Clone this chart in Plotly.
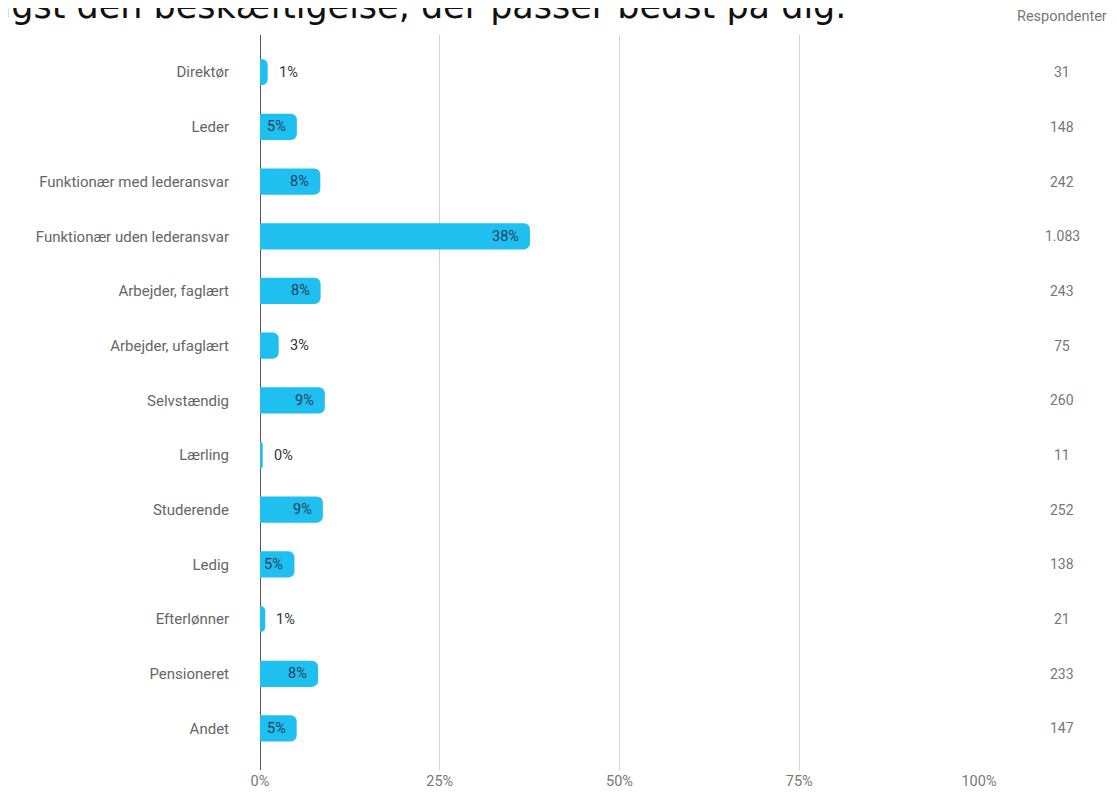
import plotly.graph_objects as go

categories = ["Direktør", "Leder", "Funktionær med lederansvar", "Funktionær uden lederansvar",
              "Arbejder, faglært", "Arbejder, ufaglært", "Selvstændig", "Lærling", "Studerende",
              "Ledig", "Efterlønner", "Pensioneret", "Andet"]
percent = [1.07, 5.13, 8.39, 37.55, 8.43, 2.60, 9.02, 0.38, 8.74, 4.79, 0.73, 8.08, 5.10]
labels = ["1%", "5%", "8%", "38%", "8%", "3%", "9%", "0%", "9%", "5%", "1%", "8%", "5%"]
respondents = ["31", "148", "242", "1.083", "243", "75", "260", "11", "252", "138", "21", "233", "147"]
x_ticks = [0, 25, 50, 75, 100]
x_ticklabels = ["0%", "25%", "50%", "75%", "100%"]

# page has an 8px body margin, so the figure is sized to fit the window
W, H = 1109, 788
L, T = 252, 27
PW, PH = 719, 735
R, B = W - L - PW, H - T - PH

fig = go.Figure(go.Bar(
    x=percent, y=categories, orientation="h",
    marker=dict(color="#1fc0ef", cornerradius=6, line=dict(width=0)),
    cliponaxis=False, hoverinfo="skip",
))

# value labels: inside the bar end for wide bars, just right of the bar for narrow ones
for c, p, t in zip(categories, percent, labels):
    inside = p >= 4
    fig.add_annotation(x=p, y=c, xref="x", yref="y", text=t, showarrow=False,
                       xanchor="right" if inside else "left", xshift=-9 if inside else 9,
                       font=dict(family="Roboto", size=14.5,
                                 color="#1d3f5e" if inside else "#333333"))

fig.update_layout(
    width=W, height=H, margin=dict(l=L, r=R, t=T, b=B, autoexpand=False),
    paper_bgcolor="white", plot_bgcolor="white",
    bargap=0.52, showlegend=False,
    font=dict(family="Roboto", color="#666666", size=15),
    xaxis=dict(range=[0, 100], tickvals=x_ticks, ticktext=x_ticklabels,
               showgrid=True, gridcolor="#d4d4d4", gridwidth=1,
               zeroline=True, zerolinecolor="#555555", zerolinewidth=1,
               showline=False, tickfont=dict(size=14.5, color="#777777"), fixedrange=True),
    yaxis=dict(type="category", categoryorder="array", categoryarray=categories,
               range=[12.76, -0.68], showgrid=False, zeroline=False, showline=False,
               ticks="outside", ticklen=27, tickcolor="rgba(0,0,0,0)",
               tickfont=dict(size=15, color="#666666")),
)

col_x = (1054 - L) / PW
fig.add_annotation(text="Respondenter", xref="paper", yref="paper",
                   x=col_x, y=1 + (T - 9) / PH,
                   showarrow=False, font=dict(size=14.5, color="#777777"), xanchor="center", yanchor="middle")
for c, r in zip(categories, respondents):
    fig.add_annotation(text=r, xref="paper", yref="y", x=col_x, y=c,
                       showarrow=False, font=dict(size=14, color="#777777"), xanchor="center")

# Question title, partly outside the visible page at the top-left
fig.add_annotation(text="Vælg venligst den beskæftigelse, der passer bedst på dig.",
                   xref="paper", yref="paper", x=(840 - L) / PW, y=1 + (T - 20) / PH,
                   xanchor="right", yanchor="bottom", showarrow=False,
                   font=dict(family="DejaVu Sans", size=35, color="#111111"))

fig.write_html("out.html")
